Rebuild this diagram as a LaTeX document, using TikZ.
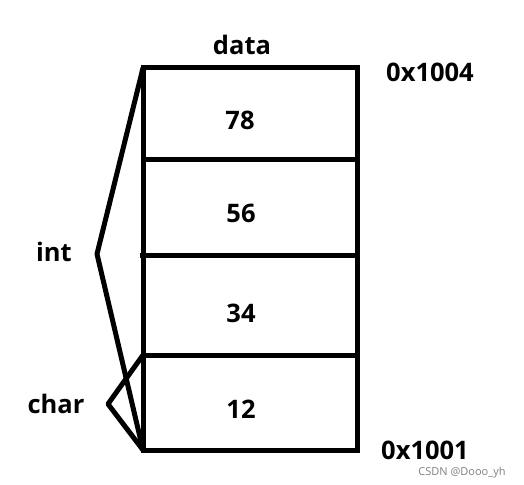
\documentclass[tikz,border=0pt]{standalone}
\usepackage{fontspec}
\setmainfont{Open Sans}
\begin{document}
\begin{tikzpicture}[x=1pt,y=-1pt,
  lbl/.style={font=\fontsize{25.5}{25.5}\selectfont\bfseries, inner sep=0pt},
  wall/.style={line width=5pt, line join=miter},
  brace/.style={line width=5pt, line join=round, line cap=round}]
\useasboundingbox (0,0) rectangle (524,484);
% cells
\coordinate (tl) at (143,68);
\coordinate (tr) at (357,68);
\coordinate (bl) at (143,450);
\coordinate (br) at (357,450);
\coordinate (d1l) at (143,159); \coordinate (d1r) at (357,159);
\coordinate (d2l) at (140,255); \coordinate (d2r) at (357,255);
\coordinate (d3l) at (143,355); \coordinate (d3r) at (357,355);
\draw[wall] (tl) -- (tr) -- (br) -- (bl) -- cycle;
\draw[wall] (d1l) -- (d1r);
\draw[wall] (d2l) -- (d2r);
\draw[wall] (d3l) -- (d3r);
% brackets
\coordinate (intp) at (97,254);
\coordinate (charp) at (108,404);
\draw[brace] (tl) -- (intp) -- (bl);
\draw[brace] (d3l) -- (charp) -- (bl);
% texts
\node[lbl] (data) at (242,45) {data};
\node[lbl] (a4) at (430,72) {0x1004};
\node[lbl] (a1) at (425,450) {0x1001};
\node[lbl] (v78) at (240,120) {78};
\node[lbl] (v56) at (241,213) {56};
\node[lbl] (v34) at (241,313) {34};
\node[lbl] (v12) at (241,409) {12};
\node[lbl] (int) at (54,252) {int};
\node[lbl] (char) at (56,404) {char};
\node[font=\fontsize{11}{11}\selectfont, text=gray, inner sep=0pt] (wm) at (462,473) {CSDN @Dooo\_yh};
\end{tikzpicture}
\end{document}
